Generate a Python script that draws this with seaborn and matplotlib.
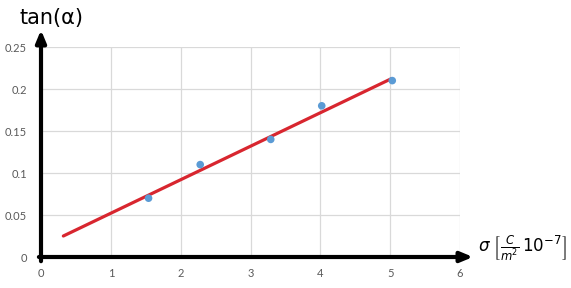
import matplotlib
matplotlib.use("Agg")
import matplotlib.pyplot as plt
import seaborn as sns
import pandas as pd

# data
sigma = [1.54, 2.28, 3.29, 4.02, 5.03]
tan_alpha = [0.07, 0.11, 0.14, 0.18, 0.21]
fit_x = [0.32, 5.01]
fit_y = [0.025, 0.212]
x_ticks = [0, 1, 2, 3, 4, 5, 6]
y_ticks = [0, 0.05, 0.1, 0.15, 0.2, 0.25]
y_tick_labels = ["0", "0.05", "0.1", "0.15", "0.2", "0.25"]

sns.set_theme(style="white")
plt.rcParams['font.family'] = ['Lato', 'DejaVu Sans']

fig = plt.figure(figsize=(5.71, 2.88), dpi=100)
ax = fig.add_axes([41/571, 1-257/288, 419/571, 210/288])

pts = pd.DataFrame({"x": sigma, "y": tan_alpha})
line = pd.DataFrame({"x": fit_x, "y": fit_y})

sns.lineplot(data=line, x="x", y="y", ax=ax, color="#d8262f", linewidth=2.3, zorder=3)
sns.scatterplot(data=pts, x="x", y="y", ax=ax, color="#5b9bd5", s=30, edgecolor="none", zorder=4)

ax.set_xlim(0, 6)
ax.set_ylim(0, 0.25)
ax.set_xticks(x_ticks)
ax.set_yticks(y_ticks)
ax.set_yticklabels(y_tick_labels)
ax.grid(True, color="#d9d9d9", linewidth=0.9)
ax.set_axisbelow(True)
ax.set_xlabel("")
ax.set_ylabel("")
for s in ["top", "right", "left", "bottom"]:
    ax.spines[s].set_visible(False)
ax.tick_params(axis="both", length=0, labelsize=8, colors="#595959")
ax.tick_params(axis="x", pad=8)
ax.tick_params(axis="y", pad=10)

# hand-drawn style axes with arrows
ax.annotate("", xy=(0, 1.081), xytext=(0, -0.02), xycoords="axes fraction",
            arrowprops=dict(arrowstyle="-|>,head_length=0.6,head_width=0.25", color="black", lw=3.0,
                            shrinkA=0, shrinkB=0), annotation_clip=False)
ax.annotate("", xy=(1.031, 0), xytext=(-0.005, 0), xycoords="axes fraction",
            arrowprops=dict(arrowstyle="-|>,head_length=0.6,head_width=0.25", color="black", lw=3.0,
                            shrinkA=0, shrinkB=0), annotation_clip=False)

fig.text(20/571, 1-18/288, "tan(α)", fontsize=15, color="black", va="center", ha="left",
         family=["DejaVu Sans"])
fig.text(478/571, 1-248/288, r"$\sigma\ \left[\frac{C}{m^2}\,10^{-7}\right]$", fontsize=12,
         color="black", va="center", ha="left")

fig.savefig("out.png", dpi=100, facecolor="white")
